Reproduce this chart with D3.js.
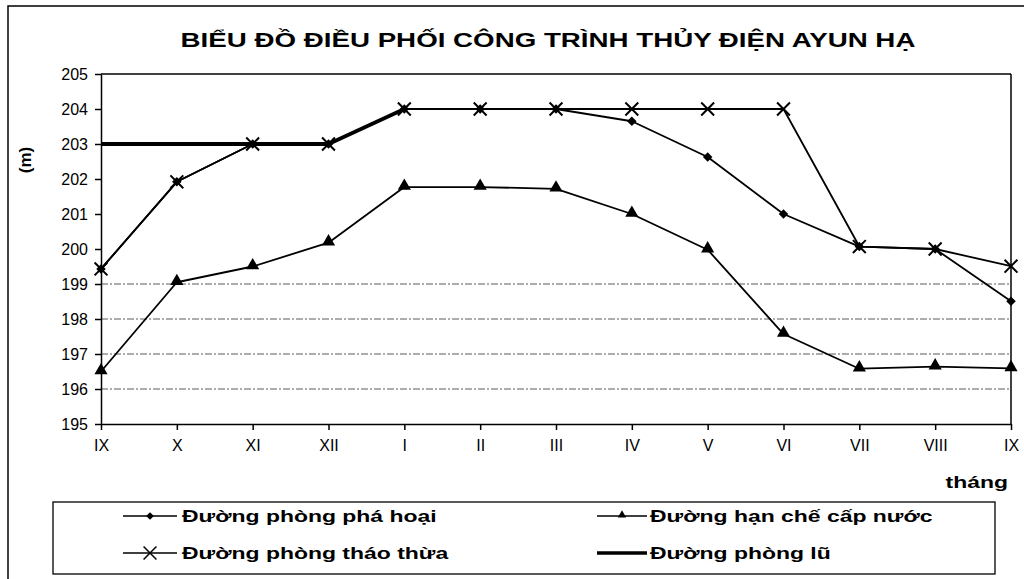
<!DOCTYPE html>
<html><head><meta charset="utf-8">
<script src="https://cdn.jsdelivr.net/npm/d3@7"></script>
<style>
body{margin:0;background:#fff;}
svg{display:block;font-family:"Liberation Sans",Arial,sans-serif;}
</style></head>
<body><svg id="c" width="1024" height="579"></svg>
<script>
const months = ["IX","X","XI","XII","I","II","III","IV","V","VI","VII","VIII","IX"];
const yTicks = [195,196,197,198,199,200,201,202,203,204,205];
const gridValues = [196,197,198,199];
const phaHoai  = [199.43,201.92,203,203,204,204,204,203.65,202.63,201.0,200.07,200.0,198.51];
const thaoThua = [199.43,201.92,203,203,204,204,204,204,204,204,200.07,200.0,199.51];
const hanChe   = [196.5,199.05,199.5,200.18,201.77,201.77,201.72,201.0,199.98,197.57,196.58,196.64,196.59];
const phongLu  = [203,203,203,203,204,null,null,null,null,null,null,null,null];
const titleText = "BIỂU ĐỒ ĐIỀU PHỐI CÔNG TRÌNH THỦY ĐIỆN AYUN HẠ";
const yLabel = "(m)";
const xLabel = "tháng";
const legendNames = ["Đường phòng phá hoại","Đường hạn chế cấp nước","Đường phòng tháo thừa","Đường phòng lũ"];

const svg = d3.select("#c");
const L=101, R=1011, T=74, B=424;
const x = d3.scalePoint().domain(d3.range(months.length)).range([L,R]);
const y = d3.scaleLinear().domain([195,205]).range([B,T]);

// outer frame (top + left visible)
svg.append("rect").attr("x",8).attr("y",6).attr("width",1030).attr("height",600)
  .attr("fill","none").attr("stroke","#000").attr("stroke-width",1.5);

function stretchText(g, txt, px, py, size, weight, anchor, sx){
  return g.append("text").text(txt)
    .attr("transform",`translate(${px},${py}) scale(${sx},1)`)
    .attr("text-anchor",anchor).attr("font-size",size).attr("font-weight",weight).attr("fill","#000");
}

// title
stretchText(svg, titleText, 548, 47, 21, "bold", "middle", 1.32);

// grid
svg.append("g").selectAll("line").data(gridValues).join("line")
  .attr("x1",L).attr("x2",R).attr("y1",d=>y(d)).attr("y2",d=>y(d))
  .attr("stroke","#333").attr("stroke-width",1).attr("stroke-dasharray","7,2,2,2").attr("opacity",0.8);

// plot frame top & right
svg.append("line").attr("x1",L).attr("x2",R).attr("y1",y(205)).attr("y2",y(205)).attr("stroke","#000").attr("stroke-width",1.5);
svg.append("line").attr("x1",R).attr("x2",R).attr("y1",y(205)).attr("y2",y(195)).attr("stroke","#000").attr("stroke-width",1.5);

// axes
const ya = svg.append("g").attr("transform",`translate(${L},0)`)
  .call(d3.axisLeft(y).tickValues(yTicks).tickSize(6).tickPadding(7).tickSizeOuter(0));
ya.selectAll("text").attr("font-size",16).attr("fill","#000").attr("font-family","Liberation Sans, Arial, sans-serif");
const xa = svg.append("g").attr("transform",`translate(0,${B})`)
  .call(d3.axisBottom(x).tickFormat(i=>months[i]).tickSize(6).tickPadding(10).tickSizeOuter(0));
xa.selectAll("text").attr("font-size",16).attr("fill","#000").attr("font-family","Liberation Sans, Arial, sans-serif");
svg.selectAll(".domain,.tick line").attr("stroke","#000").attr("stroke-width",1.5);

// axis titles
svg.append("text").text(yLabel).attr("transform","translate(31,160) rotate(-90)")
  .attr("text-anchor","middle").attr("font-size",17).attr("font-weight","bold");
stretchText(svg, xLabel, 1008, 488, 17, "bold", "end", 1.35);

// lines
const line = d3.line().defined(d=>d!=null).x((d,i)=>x(i)).y(d=>y(d));
function drawLine(data, w){
  svg.append("path").datum(data).attr("d",line).attr("fill","none").attr("stroke","#000").attr("stroke-width",w).attr("stroke-linejoin","round");
}
drawLine(hanChe,1.8);
drawLine(phaHoai,1.8);
drawLine(thaoThua,1.8);
drawLine(phongLu,3.8);

// markers
const tri = d3.symbol().type(d3.symbolTriangle).size(75);
const dia = d3.symbol().type(d3.symbolSquare).size(45);
const cross = d3.symbol().type(d3.symbolX).size(110);
svg.append("g").selectAll("path").data(hanChe).join("path")
  .attr("d",tri).attr("transform",(d,i)=>`translate(${x(i)},${y(d)-1})`).attr("fill","#000");
svg.append("g").selectAll("path").data(phaHoai).join("path")
  .attr("d",dia).attr("transform",(d,i)=>`translate(${x(i)},${y(d)}) rotate(45)`).attr("fill","#000");
svg.append("g").selectAll("path").data(thaoThua).join("path")
  .attr("d",cross).attr("transform",(d,i)=>`translate(${x(i)},${y(d)})`).attr("fill","none").attr("stroke","#000").attr("stroke-width",2);

// legend
const lg = svg.append("g");
lg.append("rect").attr("x",53).attr("y",502).attr("width",942).attr("height",72)
  .attr("fill","none").attr("stroke","#000").attr("stroke-width",1.3);
const legendPos = [
  {lx1:123,lx2:177,tx:182,ty:522,mark:"dia",w:1.6},
  {lx1:597,lx2:647,tx:650,ty:522,mark:"tri",w:1.6},
  {lx1:123,lx2:177,tx:182,ty:559,mark:"x",w:1.6},
  {lx1:597,lx2:647,tx:650,ty:559,mark:null,w:3.6}
];
legendPos.forEach((p,k)=>{
  const cy = p.ty-6, cx=(p.lx1+p.lx2)/2;
  lg.append("line").attr("x1",p.lx1).attr("x2",p.lx2).attr("y1",cy).attr("y2",cy).attr("stroke","#000").attr("stroke-width",p.w);
  if(p.mark==="dia") lg.append("path").attr("d",d3.symbol().type(d3.symbolSquare).size(30)).attr("transform",`translate(${cx},${cy}) rotate(45)`);
  if(p.mark==="tri") lg.append("path").attr("d",d3.symbol().type(d3.symbolTriangle).size(30)).attr("transform",`translate(${cx},${cy-1})`);
  if(p.mark==="x") lg.append("path").attr("d",d3.symbol().type(d3.symbolX).size(110)).attr("transform",`translate(${cx},${cy})`).attr("fill","none").attr("stroke","#000").attr("stroke-width",1.5);
  stretchText(lg, legendNames[k], p.tx, p.ty, 17, "bold", "start", 1.35);
});
</script></body></html>
